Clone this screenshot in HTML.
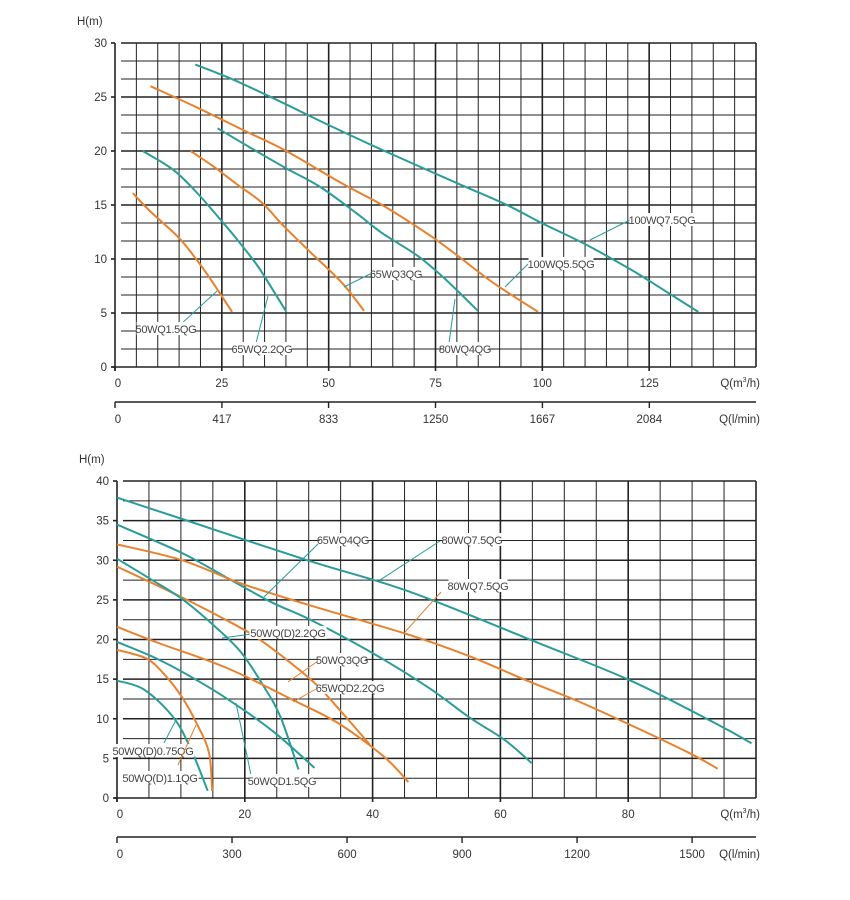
<!DOCTYPE html>
<html><head><meta charset="utf-8"><style>
html,body{margin:0;padding:0;background:#fff;}
svg{display:block;font-family:"Liberation Sans",sans-serif;}
</style></head><body>
<svg id="svg" width="850" height="900" viewBox="0 0 850 900" xmlns="http://www.w3.org/2000/svg"></svg>
<script>
// ---------- Top chart data ----------
const topXTicks = [0,25,50,75,100,125];
const topYTicks = [0,5,10,15,20,25,30];
const topLminTicks = ["0","417","833","1250","1667","2084"];
const topNames = ["50WQ1.5QG","65WQ2.2QG","65WQ3QG","80WQ4QG","100WQ5.5QG","100WQ7.5QG"];
const topColors = ["o","t","o","t","o","t"];
const top50WQ15Q = [4.2,8,14.6,18.2,21.9,27.4];
const top50WQ15H = [16.1,14.5,12.1,10.4,8.4,5.1];
const top65WQ22Q = [6.5,13.5,18.8,25,28.6,33.3,37,40.1];
const top65WQ22H = [20,18.3,16.3,13.5,11.8,9.4,7.1,5.1];
const top65WQ3Q = [17.7,22.9,28.6,34.4,39.6,45.8,53.1,58.3];
const top65WQ3H = [20,18.6,16.9,15.2,13,10.6,7.8,5.2];
const top80WQ4Q = [24,31.3,39.6,47.9,56.3,62.5,70.8,77.1,84.9];
const top80WQ4H = [22.1,20.4,18.5,16.7,14.3,12.4,10.3,8.2,5.2];
const top100WQ55Q = [8.3,18.8,30.2,39.6,53.1,62.5,72.9,80.2,88.5,99];
const top100WQ55H = [26,24.1,21.9,20.1,17,15,12.4,10.3,7.8,5.1];
const top100WQ75Q = [18.8,27.1,37.5,50,62.5,80.2,91.7,100,109.4,120.8,128.1,136.5];
const top100WQ75H = [28,26.7,24.8,22.4,20.1,17,15,13.3,11.5,9,7.2,5.1];

// ---------- Bottom chart data ----------
const botXTicks = [0,20,40,60,80];
const botYTicks = [0,5,10,15,20,25,30,35,40];
const botLminTicks = ["0","300","600","900","1200","1500"];
const botNames = ["80WQ7.5QG-t","65WQ4QG","80WQ7.5QG-o","50WQ3QG","50WQ(D)2.2QG","65WQD2.2QG","50WQD1.5QG","50WQ(D)1.1QG","50WQ(D)0.75QG"];
const botColors = ["t","t","o","o","t","o","t","o","t"];
const b80t_Q = [0,10.2,29.8,41.8,50.2,64.9,80.4,93.7,99.3];
const b80t_H = [37.9,35.2,30,27.1,24.7,19.9,14.8,9.4,6.9];
const b65_4Q = [0,10.2,17.2,24.2,30.5,40.4,48.8,55.1,60.7,64.9];
const b65_4H = [34.5,30.9,27.8,24.7,22.4,18.1,13.9,10.2,7.3,4.4];
const b80o_Q = [0,10.2,19.3,29.8,45.3,55.1,64.2,71.9,80.4,89.5,94];
const b80o_H = [32,30,27.1,24.4,20.7,17.9,14.8,12.3,9.2,5.7,3.7];
const b50_3Q = [0,10.2,15.8,21.4,26.3,31.2,35.4,39.6];
const b50_3H = [29.2,25.3,23,20.5,17.6,14.3,10.6,6.7];
const b50_22Q = [0,5.3,10.2,15.1,19.3,22.8,25.6,28.4];
const b50_22H = [30.2,27.6,25.1,21.8,18.5,14.3,10.2,3.6];
const b65D22Q = [0,6.7,17.2,27.7,34.7,41.8,45.6];
const b65D22H = [21.6,19.5,16.4,12.3,9.4,5.2,2];
const b50D15Q = [0,6.7,13.7,19.3,24.9,30.9];
const b50D15H = [19.7,17.4,14.3,11.4,8.1,3.8];
const b50D11Q = [0,4.6,7.4,10.2,12.6,14.4,14.9];
const b50D11H = [18.7,17.6,15.6,12.7,9.2,5.7,0.9];
const b50D075Q = [0,4.2,8.8,11.6,14.2];
const b50D075H = [14.8,13.7,10.2,6.1,0.9];

const COL = {o:"#e8822e", t:"#2a9c9a"};
const NS = "http://www.w3.org/2000/svg";
const svg = document.getElementById('svg');
function mk(tag, attrs, parent){const e=document.createElementNS(NS,tag);for(const k in attrs)e.setAttribute(k,attrs[k]);(parent||svg).appendChild(e);return e;}

function smooth(pts){
  let d='M'+pts[0][0].toFixed(1)+','+pts[0][1].toFixed(1);
  for(let i=0;i<pts.length-1;i++){
    const p0=pts[i-1]||pts[i],p1=pts[i],p2=pts[i+1],p3=pts[i+2]||p2;
    const c1=[p1[0]+(p2[0]-p0[0])/6,p1[1]+(p2[1]-p0[1])/6];
    const c2=[p2[0]-(p3[0]-p1[0])/6,p2[1]-(p3[1]-p1[1])/6];
    d+=' C'+c1[0].toFixed(1)+','+c1[1].toFixed(1)+' '+c2[0].toFixed(1)+','+c2[1].toFixed(1)+' '+p2[0].toFixed(1)+','+p2[1].toFixed(1);
  }
  return d;
}

function chart(cfg){
  const g = mk('g',{});
  
  
  const X = q => cfg.x0 + q * (cfg.x1 - cfg.x0) / cfg.xmax;
  const Y = h => cfg.y0 - h * (cfg.y0 - cfg.y1) / cfg.ymax;
  const grid = mk('g',{stroke:"#222","stroke-width":"1"},g);
  
  
  for(let q=cfg.vstep; q<=cfg.xmax+0.001; q+=cfg.vstep){
    mk('line',{x1:X(q),x2:X(q),y1:Y(cfg.ymax),y2:Y(0),"stroke-width":(Math.abs(q%cfg.major)<0.01||Math.abs(q%cfg.major-cfg.major)<0.01)?1.6:1},grid);
  }
  for(let i=1;i*cfg.hstep<=cfg.ymax+0.001;i++){
    const h=i*cfg.hstep;
    mk('line',{x1:cfg.x0+6,x2:X(cfg.xmax),y1:Y(h),y2:Y(h),"stroke-width":(Math.abs(h%5)<0.01||Math.abs(h%5-5)<0.01)?1.6:1},grid);
  }
  const ax = mk('g',{stroke:"#222","stroke-width":"1.6"},g);
  
  
  mk('line',{x1:cfg.x0,x2:cfg.x0,y1:Y(cfg.ymax),y2:Y(0)+4},ax);
  mk('line',{x1:cfg.x0-3,x2:X(cfg.xmax),y1:Y(0),y2:Y(0)},ax);
  for(const t of cfg.yticks){mk('line',{x1:cfg.x0-4,x2:cfg.x0,y1:Y(t),y2:Y(t)},ax);}
  for(const t of cfg.xticks){mk('line',{x1:X(t),x2:X(t),y1:Y(0),y2:Y(0)+4},ax);}
  const lab = mk('g',{fill:"#333","font-size":"11.5"},g);
  for(const t of cfg.yticks){
    const e=mk('text',{x:cfg.x0-8,y:Y(t)+4,"text-anchor":"end"},lab);e.textContent=t;
    
    
  }
  for(const t of cfg.xticks){
    const e=mk('text',{x:X(t)+(t===0?3:0),y:Y(0)+20,"text-anchor":"middle"},lab);e.textContent=t;
    
    
  }
  let e=mk('text',{x:cfg.x0-38,y:Y(cfg.ymax)-18},lab);e.textContent="H(m)";
  
  
  e=mk('text',{x:X(cfg.xmax)+4,y:Y(0)+20,"text-anchor":"end"},lab);
  e.innerHTML='Q(m<tspan font-size="7" dy="-5">3</tspan><tspan dy="5">/h)</tspan>';
  
  
  const ax2 = mk('g',{stroke:"#222","stroke-width":"1.4"},g);
  
  
  mk('line',{x1:cfg.x0,x2:X(cfg.xmax),y1:cfg.ay,y2:cfg.ay},ax2);
  cfg.lmin.forEach((s,i)=>{
    const q = (+s)*60/1000;
    mk('line',{x1:X(q),x2:X(q),y1:cfg.ay,y2:cfg.ay+6},ax2);
    const t=mk('text',{x:X(q)+(i===0?3:0),y:cfg.ay+21,"text-anchor":"middle"},lab);t.textContent=s;
    
    
  });
  e=mk('text',{x:X(cfg.xmax)+4,y:cfg.ay+21,"text-anchor":"end"},lab);e.textContent="Q(l/min)";
  
  
  cfg.series.forEach(s=>{
    const pts = s.q.map((q,i)=>[X(q),Y(s.h[i])]);
    const p = mk('path',{d:smooth(pts),fill:"none",stroke:COL[s.c],"stroke-width":"2","stroke-linejoin":"round"},g);
    
    
  });
  cfg.labels.forEach(l=>{
    const lg = mk('g',{},g);
    
    
    mk('line',{x1:l.lx1,y1:l.ly1,x2:l.lx2,y2:l.ly2,stroke:COL[l.c],"stroke-width":"1"},lg);
    const w = l.t.length*6.1+4;
    mk('rect',{x:l.x-w/2,y:l.y-7,width:w,height:13,fill:"#fff"},lg);
    const t=mk('text',{x:l.x,y:l.y+4,"text-anchor":"middle","font-size":"11",fill:"#444","letter-spacing":"-0.3"},lg);
    t.textContent=l.t;
  });
}

chart({name:"top-chart",x0:115,x1:756,xmax:150,y0:367,y1:43,ymax:30,vstep:5,major:25,hstep:5/3,
  xticks:topXTicks,yticks:topYTicks,lmin:topLminTicks,ay:402,
  series:[
    {n:topNames[0],c:topColors[0],q:top50WQ15Q,h:top50WQ15H},
    {n:topNames[1],c:topColors[1],q:top65WQ22Q,h:top65WQ22H},
    {n:topNames[2],c:topColors[2],q:top65WQ3Q,h:top65WQ3H},
    {n:topNames[3],c:topColors[3],q:top80WQ4Q,h:top80WQ4H},
    {n:topNames[4],c:topColors[4],q:top100WQ55Q,h:top100WQ55H},
    {n:topNames[5],c:topColors[5],q:top100WQ75Q,h:top100WQ75H}],
  labels:[
    {t:"50WQ1.5QG",x:166,y:329,c:"t",lx1:180,ly1:325,lx2:217,ly2:291},
    {t:"65WQ2.2QG",x:262,y:349,c:"t",lx1:256,ly1:343,lx2:268,ly2:296},
    {t:"65WQ3QG",x:396,y:274,c:"t",lx1:370,ly1:274,lx2:344,ly2:287},
    {t:"80WQ4QG",x:465,y:349,c:"t",lx1:449,ly1:343,lx2:455,ly2:299},
    {t:"100WQ5.5QG",x:561,y:264,c:"t",lx1:528,ly1:264,lx2:505,ly2:287},
    {t:"100WQ7.5QG",x:662,y:220,c:"t",lx1:630,ly1:220,lx2:590,ly2:240}]
});

chart({name:"bottom-chart",x0:117,x1:756,xmax:100,y0:798,y1:481,ymax:40,vstep:5,major:20,hstep:2.5,
  xticks:botXTicks,yticks:botYTicks,lmin:botLminTicks,ay:837,
  series:[
    {n:botNames[0],c:botColors[0],q:b80t_Q,h:b80t_H},
    {n:botNames[1],c:botColors[1],q:b65_4Q,h:b65_4H},
    {n:botNames[2],c:botColors[2],q:b80o_Q,h:b80o_H},
    {n:botNames[3],c:botColors[3],q:b50_3Q,h:b50_3H},
    {n:botNames[4],c:botColors[4],q:b50_22Q,h:b50_22H},
    {n:botNames[5],c:botColors[5],q:b65D22Q,h:b65D22H},
    {n:botNames[6],c:botColors[6],q:b50D15Q,h:b50D15H},
    {n:botNames[7],c:botColors[7],q:b50D11Q,h:b50D11H},
    {n:botNames[8],c:botColors[8],q:b50D075Q,h:b50D075H}],
  labels:[
    {t:"65WQ4QG",x:343,y:540,c:"t",lx1:318,ly1:544,lx2:264,ly2:597},
    {t:"80WQ7.5QG",x:472,y:540,c:"t",lx1:440,ly1:541,lx2:380,ly2:580},
    {t:"80WQ7.5QG",x:478,y:586,c:"o",lx1:441,ly1:592,lx2:405,ly2:632},
    {t:"50WQ(D)2.2QG",x:288,y:633,c:"t",lx1:252,ly1:634,lx2:222,ly2:638},
    {t:"50WQ3QG",x:342,y:660,c:"o",lx1:318,ly1:661,lx2:288,ly2:682},
    {t:"65WQD2.2QG",x:350,y:688,c:"o",lx1:316,ly1:689,lx2:293,ly2:702},
    {t:"50WQ(D)0.75QG",x:153,y:751,c:"t",lx1:164,ly1:743,lx2:177,ly2:718},
    {t:"50WQ(D)1.1QG",x:160,y:778,c:"o",lx1:178,ly1:765,lx2:196,ly2:725},
    {t:"50WQD1.5QG",x:282,y:781,c:"t",lx1:251,ly1:775,lx2:236,ly2:703}]
});
</script>
</body></html>
